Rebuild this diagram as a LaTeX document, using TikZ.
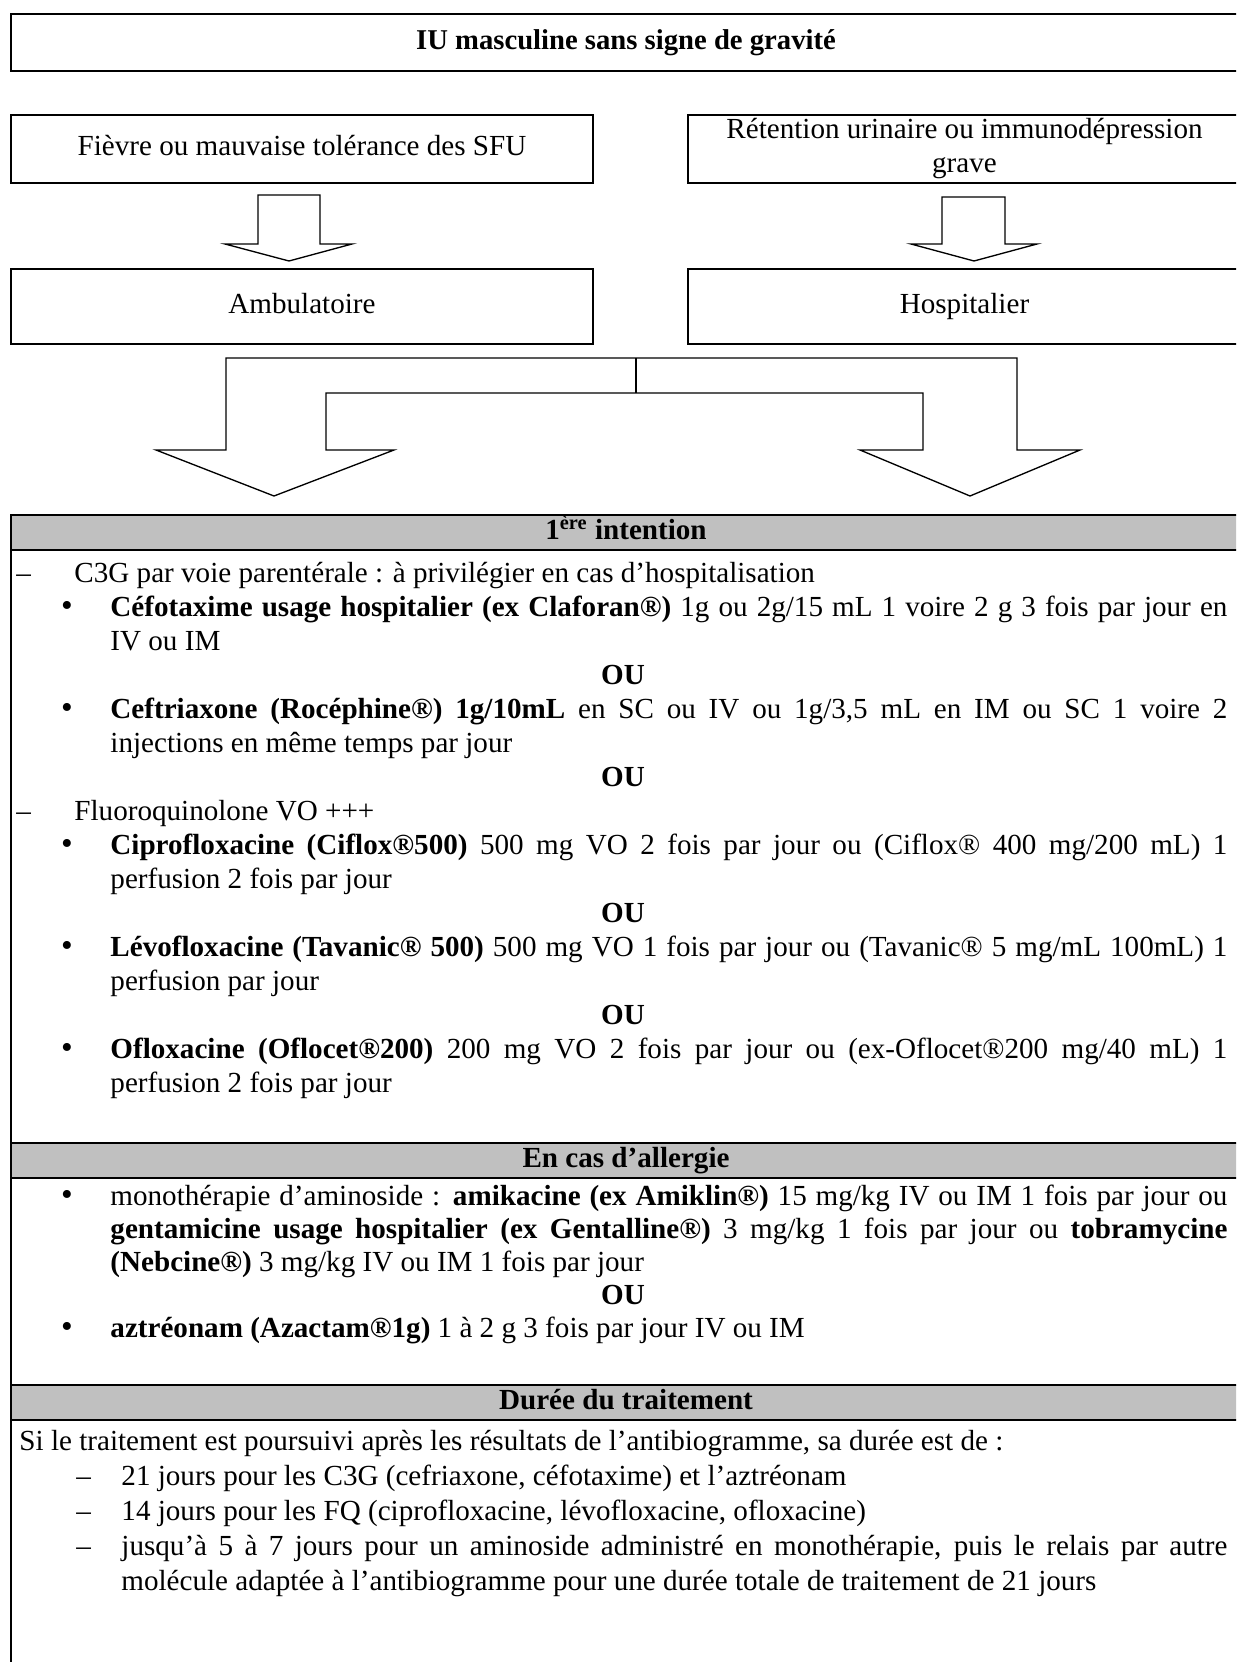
\documentclass[tikz,border=0pt]{standalone}
\usepackage{fontspec}
\setmainfont{Liberation Serif}
\definecolor{hdrgray}{RGB}{192,192,192}
\newlength\bw \setlength\bw{502.65pt}
\newlength\dw \setlength\dw{497.7pt}

\begin{document}
\begin{tikzpicture}[x=0.45pt,y=-0.45pt,font=\fontsize{13.1}{15.3}\selectfont]
        \tikzstyle{box} = [draw,line width=1.1pt,inner sep=0pt,align=center]
        \tikzstyle{onel} = [text height=9pt,text depth=3pt]
        \tikzstyle{hdr} = [draw,line width=1.3pt,fill=hdrgray,inner sep=0pt,text height=9pt,text depth=3pt,
          font=\fontsize{13.1}{15.3}\selectfont\bfseries]
        \tikzstyle{txt} = [anchor=base west,inner sep=0pt]
        \tikzstyle{ou} = [anchor=base,inner sep=0pt,font=\fontsize{13.1}{15.3}\selectfont\bfseries]
        \tikzstyle{bul} = [anchor=base,inner sep=0pt,font=\fontsize{15}{16}\selectfont]
        \tikzstyle{blockarrow} = [draw,line width=0.6pt,line join=miter,fill=white]
        \fill[white] (0,0) rectangle (1236,1662);
        \useasboundingbox (0,0) rectangle (1236,1662);
        \clip (0,0) rectangle (1236,1662);

        % boxes
        \node[box,onel,minimum width=1230*0.45pt,minimum height=57*0.45pt,
          font=\fontsize{12.9}{14}\selectfont\bfseries] (titre) at (626,42.5)
          {IU masculine sans signe de gravité};
        \node[box,onel,minimum width=582*0.45pt,minimum height=68*0.45pt] (fievre) at (302,149)
          {Fièvre ou mauvaise tolérance des SFU};
        \node[box,minimum width=553*0.45pt,minimum height=68*0.45pt] (retention) at (964.5,149)
          {Rétention urinaire ou immunodépression\\grave};
        \node[box,onel,minimum width=582*0.45pt,minimum height=75*0.45pt] (ambu) at (302,306.5) {Ambulatoire};
        \node[box,onel,minimum width=553*0.45pt,minimum height=75*0.45pt] (hosp) at (964.5,306.5) {Hospitalier};

        % block arrows
        \path[blockarrow] (258,195) -- (320,195) -- (320,244) -- (352,244) -- (289,261)
          -- (225,244) -- (258,244) -- cycle;
        \path[blockarrow] (942,197) -- (1005,197) -- (1005,244) -- (1037,244) -- (974,261)
          -- (911,244) -- (942,244) -- cycle;
        \path[blockarrow] (226,450) -- (226,358) -- (1017,358) -- (1017,450) -- (1080,450)
          -- (970,496) -- (860,450) -- (923,450) -- (923,393) -- (326,393) -- (326,450)
          -- (394,450) -- (274,496) -- (156,450) -- cycle;
        \draw[line width=0.6pt] (636,358) -- (636,393);

        % table
        \draw[line width=1.1pt] (11,550) -- (11,1662);
        \node[hdr,minimum width=1230*0.45pt,minimum height=35*0.45pt] (h1) at (626,532.5)
          {1\textsuperscript{ère} intention};
        \node[hdr,minimum width=1230*0.45pt,minimum height=35*0.45pt] (h2) at (626,1160.5)
          {En cas d’allergie};
        \node[hdr,minimum width=1230*0.45pt,minimum height=35*0.45pt] (h3) at (626,1402.5)
          {Durée du traitement};

        \foreach \y/\n in {582/d1,820/d2}
          \node[txt] (\n) at (16,\y) {–};
        \foreach \y/\n in {1485/d3,1520/d4,1555/d5}
          \node[txt] (\n) at (76,\y) {–};
        \foreach \y/\n in {616/b1,718/b2,854/b3,956/b4,1058/b5,1205/b6,1337/b7}
          \node[bul] (\n) at (67,\y) {•};
        \foreach \y/\n in {684/ou1,786/ou2,922/ou3,1024/ou4,1304/ou5}
          \node[ou] (\n) at (623,\y) {OU};

        \node[txt] (l0) at (74,582) {C3G par voie parentérale : à privilégier en cas d’hospitalisation};
        \node[txt] (l1) at (110,616) {\makebox[\bw][s]{\textbf{Céfotaxime usage hospitalier (ex Claforan®)} 1g ou 2g/15 mL 1 voire 2 g 3 fois par jour en}};
        \node[txt] (l2) at (110,650) {IV ou IM};
        \node[txt] (l4) at (110,718) {\makebox[\bw][s]{\textbf{Ceftriaxone (Rocéphine®) 1g/10mL} en SC ou IV ou 1g/3,5 mL en IM ou SC 1 voire 2}};
        \node[txt] (l5) at (110,752) {injections en même temps par jour};
        \node[txt] (l7) at (74,820) {Fluoroquinolone VO +++};
        \node[txt] (l8) at (110,854) {\makebox[\bw][s]{\textbf{Ciprofloxacine (Ciflox®500)} 500 mg VO 2 fois par jour ou (Ciflox® 400 mg/200 mL) 1}};
        \node[txt] (l9) at (110,888) {perfusion 2 fois par jour};
        \node[txt] (l11) at (110,956) {\makebox[\bw][s]{\textbf{Lévofloxacine (Tavanic® 500)} 500 mg VO 1 fois par jour ou (Tavanic® 5 mg/mL 100mL) 1}};
        \node[txt] (l12) at (110,990) {perfusion par jour};
        \node[txt] (l14) at (110,1058) {\makebox[\bw][s]{\textbf{Ofloxacine (Oflocet®200)} 200 mg VO 2 fois par jour ou (ex-Oflocet®200 mg/40 mL) 1}};
        \node[txt] (l15) at (110,1092) {perfusion 2 fois par jour};

        \node[txt] (m0) at (110,1205) {\makebox[\bw][s]{monothérapie d’aminoside : \textbf{amikacine (ex Amiklin®)} 15 mg/kg IV ou IM 1 fois par jour ou}};
        \node[txt] (m1) at (110,1238) {\makebox[\bw][s]{\textbf{gentamicine usage hospitalier (ex Gentalline®)} 3 mg/kg 1 fois par jour ou \textbf{tobramycine}}};
        \node[txt] (m2) at (110,1271) {\textbf{(Nebcine®)} 3 mg/kg IV ou IM 1 fois par jour};
        \node[txt] (m4) at (110,1337) {\textbf{aztréonam (Azactam®1g)} 1 à 2 g 3 fois par jour IV ou IM};

        \node[txt] (s0) at (19,1450) {Si le traitement est poursuivi après les résultats de l’antibiogramme, sa durée est de :};
        \node[txt] (s1) at (121,1485) {21 jours pour les C3G (cefriaxone, céfotaxime) et l’aztréonam};
        \node[txt] (s2) at (121,1520) {14 jours pour les FQ (ciprofloxacine, lévofloxacine, ofloxacine)};
        \node[txt] (s3) at (121,1555) {\makebox[\dw][s]{jusqu’à 5 à 7 jours pour un aminoside administré en monothérapie, puis le relais par autre}};
        \node[txt] (s4) at (121,1590) {molécule adaptée à l’antibiogramme pour une durée totale de traitement de 21 jours};
      \end{tikzpicture}
\end{document}
